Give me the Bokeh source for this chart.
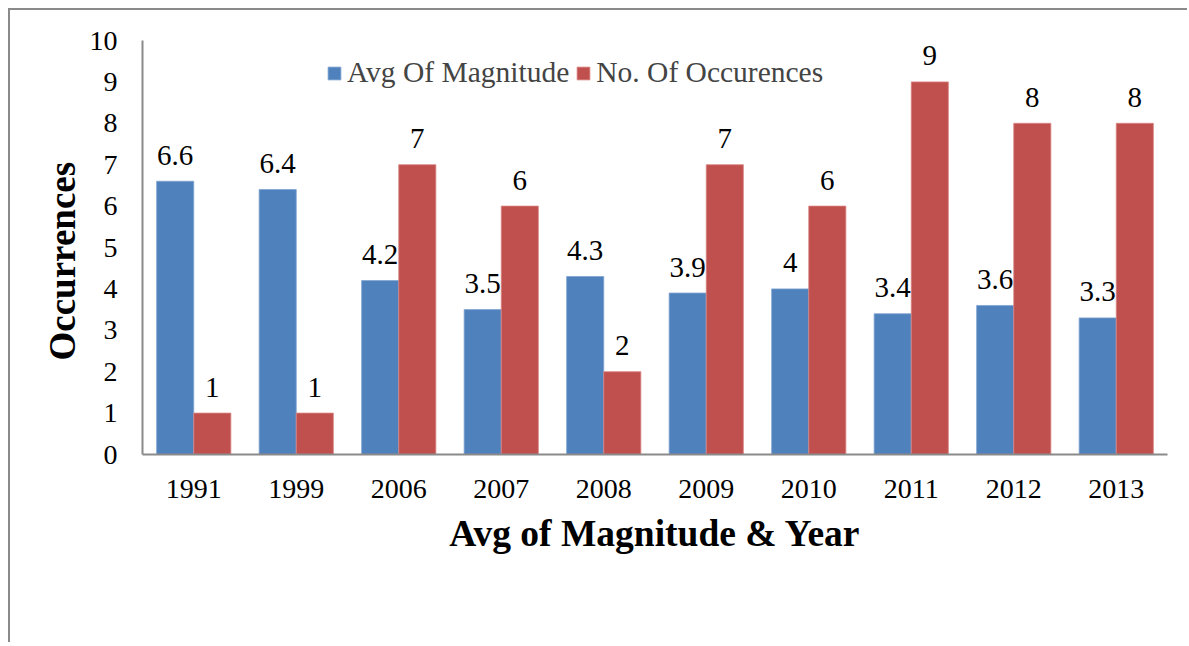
from bokeh.plotting import figure
from bokeh.models import ColumnDataSource, FactorRange, Legend, LegendItem, Range1d, Title
from bokeh.transform import dodge
from bokeh.core.properties import value
from bokeh.embed import file_html
from bokeh.resources import INLINE

years = ["1991", "1999", "2006", "2007", "2008", "2009", "2010", "2011", "2012", "2013"]
avg_magnitude = [6.6, 6.4, 4.2, 3.5, 4.3, 3.9, 4.0, 3.4, 3.6, 3.3]
occurrences = [1, 1, 7, 6, 2, 7, 6, 9, 8, 8]
avg_labels = ["6.6", "6.4", "4.2", "3.5", "4.3", "3.9", "4", "3.4", "3.6", "3.3"]
occ_labels = [str(v) for v in occurrences]
series_names = ["Avg Of Magnitude", "No. Of Occurences"]
y_ticks = list(range(0, 11))

BLUE = "#4F81BD"
RED = "#C0504D"
FONT = "Liberation Serif"

src = ColumnDataSource(dict(year=years, avg=avg_magnitude, occ=occurrences,
                            avg_lab=avg_labels, occ_lab=occ_labels))

p = figure(width=1179, height=634, x_range=FactorRange(*years, range_padding=0),
           y_range=Range1d(0, 10), output_backend="svg", toolbar_location=None,
           min_border_left=132, min_border_right=22, min_border_top=30, min_border_bottom=190)
p.styles = {"border-left": "2px solid #8a8a8a", "border-top": "2px solid #8a8a8a",
            "margin-left": "8px", "margin-top": "8px"}

w = 0.362
off = 0.181
r_blue = p.vbar(x=dodge("year", -off, range=p.x_range), top="avg", width=w, source=src,
                fill_color=BLUE, line_color="#7fa3d0", line_width=0.8)
r_red = p.vbar(x=dodge("year", off, range=p.x_range), top="occ", width=w, source=src,
               fill_color=RED, line_color="#d98583", line_width=0.8)

p.text(x=dodge("year", -off, range=p.x_range), y="avg", text="avg_lab", source=src,
       text_align="center", text_baseline="middle", y_offset=-26,
       text_font=value(FONT), text_font_size="29px", text_color="black")
p.text(x=dodge("year", off, range=p.x_range), y="occ", text="occ_lab", source=src,
       text_align="center", text_baseline="middle", y_offset=-26,
       text_font=value(FONT), text_font_size="29px", text_color="black")

p.xgrid.visible = False
p.ygrid.visible = False
p.outline_line_color = None

for ax in (p.xaxis[0], p.yaxis[0]):
    ax.axis_line_color = "#8a8a8a"
    ax.axis_line_width = 2
    ax.major_tick_line_color = None
    ax.minor_tick_line_color = None
    ax.major_label_text_font = FONT
    ax.major_label_text_font_size = "28px"
    ax.major_label_text_color = "black"
    ax.axis_label_text_font = FONT
    ax.axis_label_text_font_style = "bold"
    ax.axis_label_text_color = "black"

p.yaxis.ticker = y_ticks
p.yaxis.major_label_standoff = 19

ylab = Title(text="Occurrences", align="left", offset=94, standoff=8,
             text_font=FONT, text_font_size="37px", text_font_style="bold",
             text_color="black")
p.add_layout(ylab, "left")

p.xaxis.major_label_standoff = 19
p.xaxis.axis_label = "Avg of Magnitude & Year"
p.xaxis.axis_label_text_font_size = "37.5px"
p.xaxis.axis_label_standoff = 12
p.xaxis.group_text_font_size = "0px"

legend = Legend(items=[LegendItem(label=series_names[0], renderers=[r_blue]),
                       LegendItem(label=series_names[1], renderers=[r_red])],
                orientation="horizontal", location=(184, 365),
                label_text_font=FONT, label_text_font_size="29.5px",
                glyph_width=16, glyph_height=16, label_standoff=5, spacing=6,
                padding=4, border_line_color=None, background_fill_alpha=0)
p.add_layout(legend)

open("out.html", "w").write(file_html(p, INLINE))
